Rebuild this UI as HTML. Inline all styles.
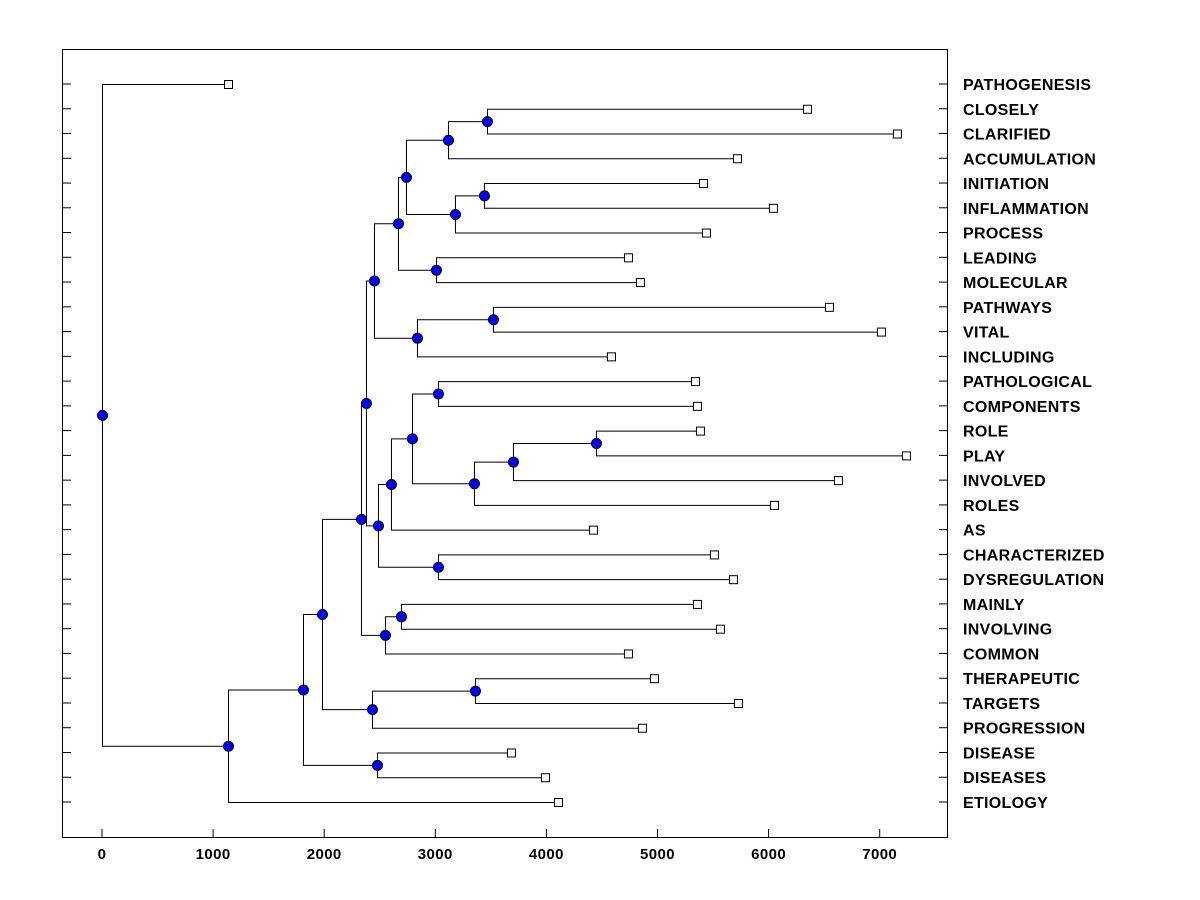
<!DOCTYPE html>
<html><head><meta charset="utf-8"><style>
html,body{margin:0;padding:0;background:#fff;}
svg{display:block;}
text{font-family:"Liberation Sans",Arial,sans-serif;fill:#000;}
</style></head><body>
<svg id="chart" width="1200" height="900" viewBox="0 0 1200 900"></svg>
<script>
const leafLabels = ["PATHOGENESIS","CLOSELY","CLARIFIED","ACCUMULATION","INITIATION","INFLAMMATION","PROCESS","LEADING","MOLECULAR","PATHWAYS","VITAL","INCLUDING","PATHOLOGICAL","COMPONENTS","ROLE","PLAY","INVOLVED","ROLES","AS","CHARACTERIZED","DYSREGULATION","MAINLY","INVOLVING","COMMON","THERAPEUTIC","TARGETS","PROGRESSION","DISEASE","DISEASES","ETIOLOGY"];
const leafHeights = [1134,6345,7155,5715,5409,6039,5436,4734,4842,6543,7011,4581,5337,5355,5382,7236,6624,6048,4419,5508,5679,5355,5562,4734,4968,5724,4860,3681,3987,4104];
// merges: children refer to leaf index (number) or "n"+mergeIndex
const mergeLeft  = [1,"n0",4,"n2","n1",7,"n4",9,"n7","n6",12,14,"n11","n12","n10","n14",19,"n15","n9",21,"n19","n18",24,"n22","n21",27,"n25","n26",0];
const mergeRight = [2,3,5,6,"n3",8,"n5",10,11,"n8",13,15,16,17,"n13",18,20,"n16","n17",22,23,"n20",25,26,"n23",28,"n24",29,"n27"];
const mergeHeights = [3465,3114,3438,3177,2736,3006,2664,3519,2835,2448,3024,4446,3699,3348,2790,2601,3024,2484,2376,2691,2547,2331,3357,2430,1980,2475,1809,1134,0];
const xTicks = [0,1000,2000,3000,4000,5000,6000,7000];

const svg = document.getElementById('chart');
const NS = "http://www.w3.org/2000/svg";
const X0 = 102, XS = 0.1111, Y0 = 84, YS = (802-84)/29;
const xs = v => X0 + v*XS;
const ys = i => Y0 + i*YS;
function mk(tag, attrs){const e=document.createElementNS(NS,tag);for(const k in attrs)e.setAttribute(k,attrs[k]);svg.appendChild(e);return e;}

const frame = mk('rect',{x:62.5,y:49.5,width:885,height:788,fill:'none',stroke:'#000','stroke-width':1});



xTicks.forEach(t=>{
  const l=mk('line',{x1:xs(t),x2:xs(t),y1:829,y2:837,stroke:'#000'});
  
  
  const tx=mk('text',{x:xs(t),y:859,'text-anchor':'middle','font-size':15,'font-weight':'bold','letter-spacing':0.4});
  tx.textContent=t;
  
  
});

leafLabels.forEach((lab,i)=>{
  const y=ys(i);
  const a=mk('line',{x1:62,x2:71,y1:y,y2:y,stroke:'#000'});
  
  
  const b=mk('line',{x1:939,x2:948,y1:y,y2:y,stroke:'#000'});
  
  
  const t=mk('text',{x:963,y:y+6,'font-size':16,'font-weight':'bold','letter-spacing':0.3});
  t.textContent=lab;
  
  
});

const nodeY = [];
function pos(c){
  if(typeof c==='number') return {x:xs(leafHeights[c]),y:ys(c)};
  const k=parseInt(c.slice(1));
  return {x:xs(mergeHeights[k]),y:nodeY[k]};
}
const circles=[];
mergeLeft.forEach((L,k)=>{
  const a=pos(L), b=pos(mergeRight[k]);
  const x=xs(mergeHeights[k]);
  nodeY[k]=(a.y+b.y)/2;
  const p=mk('path',{d:`M${a.x},${a.y+0.5}H${x+0.5}V${b.y+0.5}H${b.x}`,fill:'none',stroke:'#000','stroke-width':1});
  
  
  circles.push([x,nodeY[k]]);
});
leafLabels.forEach((lab,i)=>{
  const r=mk('rect',{x:xs(leafHeights[i])-3.5,y:ys(i)-3.5,width:8,height:8,fill:'#fff',stroke:'#000'});
  
  
});
circles.forEach(([x,y])=>{
  const c=mk('circle',{cx:x+0.5,cy:y+0.5,r:5,fill:'#0000ff',stroke:'#000','stroke-width':1});
  
  
});
</script>
</body></html>
